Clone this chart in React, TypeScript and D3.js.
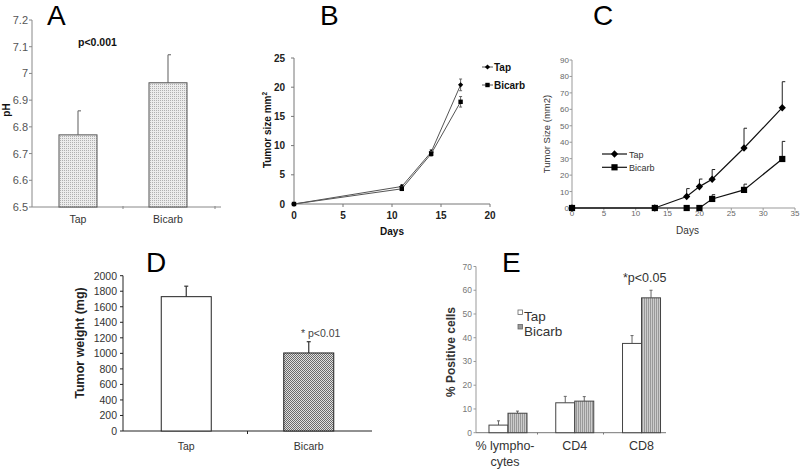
import React from "react";
import * as d3 from "d3";

// ---------- Panel A data ----------
const aCats = ["Tap", "Bicarb"];
const aVals = [6.77, 6.965];
const aErr = [0.09, 0.105];
const aTicks = [6.5, 6.6, 6.7, 6.8, 6.9, 7.0, 7.1, 7.2];

// ---------- Panel B data ----------
const bDays = [0, 11, 14, 17];
const bTap = [0, 3.0, 8.9, 20.4];
const bTapErr = [0, 0.3, 0.4, 1.0];
const bBicarb = [0, 2.6, 8.6, 17.5];
const bBicarbErr = [0, 0.3, 0.4, 0.9];
const bYTicks = [0, 5, 10, 15, 20, 25];
const bXTicks = [0, 5, 10, 15, 20];

// ---------- Panel C data ----------
const cDays = [0, 13, 18, 20, 22, 27, 33];
const cTap = [0, 0, 7, 13, 17.5, 36.5, 61];
const cTapErr = [0, 0, 4.8, 4.6, 5.9, 12, 15.8];
const cBicarb = [0, 0, 0, 0, 5.5, 11, 29.8];
const cBicarbErr = [0, 0, 0, 0, 2.6, 3.5, 10.7];
const cYTicks = [0, 10, 20, 30, 40, 50, 60, 70, 80, 90];
const cXTicks = [0, 5, 10, 15, 20, 25, 30, 35];

// ---------- Panel D data ----------
const dCats = ["Tap", "Bicarb"];
const dVals = [1730, 1005];
const dErr = [135, 145];
const dTicks = [0, 200, 400, 600, 800, 1000, 1200, 1400, 1600, 1800, 2000];

// ---------- Panel E data ----------
const eCats = ["lympho", "CD4", "CD8"];
const eLabels = [["% lympho-", "cytes"], ["CD4"], ["CD8"]];
const eTap = [3.2, 12.6, 37.6];
const eTapErr = [1.8, 2.7, 3.3];
const eBicarb = [8.2, 13.3, 56.8];
const eBicarbErr = [0.9, 1.9, 3.2];
const eTicks = [0, 10, 20, 30, 40, 50, 60, 70];

const FONT = "'Liberation Sans', Arial, Helvetica, sans-serif";

function PanelA() {
  const y = d3.scaleLinear().domain([6.5, 7.2]).range([207, 20]);
  const x = d3.scaleBand().domain(aCats).range([33, 213]);
  const bw = 38;
  return (
    <g>
      <text x={47} y={25} fontSize={28} fill="#000">A</text>
      <line x1={32} x2={32} y1={20} y2={207} stroke="#888" />
      <line x1={32} x2={221} y1={207} y2={207} stroke="#888" />
      {aTicks.map((t) => (
        <g key={t}>
          <line x1={29} x2={32} y1={y(t)} y2={y(t)} stroke="#888" />
          <text x={28} y={y(t) + 4} fontSize={11} fill="#555" textAnchor="end">
            {d3.format("")(+t.toFixed(1))}
          </text>
        </g>
      ))}
      {[123, 215].map((t) => (
        <line key={t} x1={t} x2={t} y1={206} y2={209} stroke="#888" />
      ))}
      {aCats.map((c, i) => {
        const cx = x(c)! + x.bandwidth() / 2;
        return (
          <g key={c}>
            <line x1={cx} x2={cx} y1={y(aVals[i])} y2={y(aVals[i] + aErr[i])} stroke="#777" strokeWidth={1.2} />
            <line x1={cx} x2={cx + 3} y1={y(aVals[i] + aErr[i])} y2={y(aVals[i] + aErr[i])} stroke="#777" strokeWidth={1.2} />
            <rect x={cx - bw / 2} y={y(aVals[i])} width={bw} height={207 - y(aVals[i])} fill="url(#patA)" stroke="#555" strokeWidth={1} />
            <text x={cx} y={223} fontSize={10.5} fill="#333" textAnchor="middle">{c}</text>
          </g>
        );
      })}
      <text x={78} y={46} fontSize={10.5} fontWeight="bold" fill="#111">p&lt;0.001</text>
      <text transform="translate(10,110) rotate(-90)" fontSize={10} fontWeight="bold" textAnchor="middle" fill="#111">pH</text>
    </g>
  );
}

function PanelB() {
  const x = d3.scaleLinear().domain([0, 20]).range([294, 490]);
  const y = d3.scaleLinear().domain([0, 25]).range([204, 58]);
  const line = d3.line<number>().x((_, i) => x(bDays[i])).y((d) => y(d));
  const series = [
    { vals: bTap, err: bTapErr, marker: "diamond" },
    { vals: bBicarb, err: bBicarbErr, marker: "square" },
  ];
  const mk = (m: string, cx: number, cy: number, key?: any) =>
    m === "square" ? (
      <rect key={key} x={cx - 2.2} y={cy - 2.2} width={4.4} height={4.4} fill="#000" />
    ) : (
      <path key={key} d="M0,-2.6L2.6,0L0,2.6L-2.6,0Z" transform={`translate(${cx},${cy})`} fill="#000" />
    );
  return (
    <g>
      <text x={320} y={25} fontSize={28} fill="#000">B</text>
      <line x1={294} x2={294} y1={58} y2={204} stroke="#777" />
      <line x1={294} x2={490} y1={204} y2={204} stroke="#777" />
      {bYTicks.map((t) => (
        <g key={t}>
          <line x1={291} x2={294} y1={y(t)} y2={y(t)} stroke="#777" />
          <text x={285} y={y(t) + 3.5} fontSize={10} fontWeight="bold" fill="#222" textAnchor="end">{t}</text>
        </g>
      ))}
      {bXTicks.map((t) => (
        <g key={t}>
          <line x1={x(t)} x2={x(t)} y1={204} y2={207} stroke="#777" />
          <text x={x(t)} y={219} fontSize={10} fontWeight="bold" fill="#222" textAnchor="middle">{t}</text>
        </g>
      ))}
      {series.map((s, si) => (
        <g key={si}>
          <path d={line(s.vals)!} fill="none" stroke="#555" strokeWidth={1} />
          {s.vals.map((v, i) =>
            s.err[i] > 0 ? (
              <g key={i}>
                <line x1={x(bDays[i])} x2={x(bDays[i])} y1={y(v - s.err[i])} y2={y(v + s.err[i])} stroke="#666" />
                <line x1={x(bDays[i]) - 1.5} x2={x(bDays[i]) + 1.5} y1={y(v + s.err[i])} y2={y(v + s.err[i])} stroke="#666" />
                <line x1={x(bDays[i]) - 1.5} x2={x(bDays[i]) + 1.5} y1={y(v - s.err[i])} y2={y(v - s.err[i])} stroke="#666" />
              </g>
            ) : null
          )}
          {s.vals.map((v, i) => mk(s.marker, x(bDays[i]), y(v), "m" + i))}
        </g>
      ))}
      <line x1={482} x2={493} y1={67} y2={67} stroke="#555" />
      {mk("diamond", 487.5, 67)}
      <text x={494} y={71} fontSize={10} fontWeight="bold" fill="#111">Tap</text>
      <line x1={482} x2={493} y1={85} y2={85} stroke="#555" />
      {mk("square", 487.5, 85)}
      <text x={494} y={89} fontSize={10} fontWeight="bold" fill="#111">Bicarb</text>
      <text x={392} y={235} fontSize={10} fontWeight="bold" fill="#111" textAnchor="middle">Days</text>
      <text transform="translate(271,130) rotate(-90)" fontSize={10} fontWeight="bold" fill="#111" textAnchor="middle">
        Tumor size mm<tspan fontSize={6.5} dy={-4}>2</tspan>
      </text>
    </g>
  );
}

function PanelC() {
  const x = d3.scaleLinear().domain([0, 35]).range([572, 795]);
  const y = d3.scaleLinear().domain([0, 90]).range([208, 60]);
  const line = d3.line<number>().x((_, i) => x(cDays[i])).y((d) => y(d));
  const series = [
    { vals: cTap, err: cTapErr, marker: "diamond" },
    { vals: cBicarb, err: cBicarbErr, marker: "square" },
  ];
  const mk = (m: string, cx: number, cy: number, key?: any) =>
    m === "square" ? (
      <rect key={key} x={cx - 3.1} y={cy - 3.1} width={6.2} height={6.2} fill="#000" />
    ) : (
      <path key={key} d="M0,-3.8L3.6,0L0,3.8L-3.6,0Z" transform={`translate(${cx},${cy})`} fill="#000" />
    );
  return (
    <g>
      <text x={593} y={25} fontSize={28} fill="#000">C</text>
      <line x1={572} x2={572} y1={60} y2={208} stroke="#999" />
      <line x1={572} x2={795} y1={208} y2={208} stroke="#999" />
      {cYTicks.map((t) => (
        <g key={t}>
          <line x1={569.5} x2={572} y1={y(t)} y2={y(t)} stroke="#999" />
          <text x={569} y={y(t) + 3} fontSize={8} fill="#666" textAnchor="end">{t}</text>
        </g>
      ))}
      {cXTicks.map((t) => (
        <g key={t}>
          <line x1={x(t)} x2={x(t)} y1={208} y2={210.5} stroke="#999" />
          <text x={x(t)} y={216} fontSize={8} fill="#666" textAnchor="middle">{t}</text>
        </g>
      ))}
      {series.map((s, si) => (
        <g key={si}>
          <path d={line(s.vals)!} fill="none" stroke="#111" strokeWidth={1.2} />
          {s.vals.map((v, i) =>
            s.err[i] > 0 ? (
              <g key={i}>
                <line x1={x(cDays[i])} x2={x(cDays[i])} y1={y(v)} y2={y(v + s.err[i])} stroke="#222" />
                <line x1={x(cDays[i])} x2={x(cDays[i]) + 3} y1={y(v + s.err[i])} y2={y(v + s.err[i])} stroke="#222" />
              </g>
            ) : null
          )}
          {s.vals.map((v, i) => mk(s.marker, x(cDays[i]), y(v), "m" + i))}
        </g>
      ))}
      <line x1={602} x2={627} y1={154} y2={154} stroke="#111" strokeWidth={1.2} />
      {mk("diamond", 614.5, 154)}
      <text x={629} y={157.5} fontSize={9} fill="#333">Tap</text>
      <line x1={602} x2={627} y1={167.3} y2={167.3} stroke="#111" strokeWidth={1.2} />
      {mk("square", 614.5, 167.3)}
      <text x={629} y={170.8} fontSize={9} fill="#333">Bicarb</text>
      <text x={687.5} y={234} fontSize={10} fill="#333" textAnchor="middle">Days</text>
      <text transform="translate(550,134) rotate(-90)" fontSize={9.5} fill="#333" textAnchor="middle">Tumor Size (mm2)</text>
    </g>
  );
}

function PanelD() {
  const y = d3.scaleLinear().domain([0, 2000]).range([431, 275.7]);
  const x = d3.scaleBand().domain(dCats).range([125, 370]);
  const bw = 50;
  const fills = ["#fff", "url(#patD)"];
  return (
    <g>
      <text x={146} y={272} fontSize={28} fill="#000">D</text>
      <line x1={123} x2={123} y1={275.7} y2={431} stroke="#222" />
      <line x1={123} x2={372} y1={431} y2={431} stroke="#222" />
      {dTicks.map((t) => (
        <g key={t}>
          <line x1={120} x2={123} y1={y(t)} y2={y(t)} stroke="#222" />
          <text x={117} y={y(t) + 3.8} fontSize={10.5} fill="#333" textAnchor="end">{t}</text>
        </g>
      ))}
      <line x1={247.5} x2={247.5} y1={431} y2={434} stroke="#222" />
      {dCats.map((c, i) => {
        const cx = x(c)! + x.bandwidth() / 2;
        return (
          <g key={c}>
            <line x1={cx} x2={cx} y1={y(dVals[i])} y2={y(dVals[i] + dErr[i])} stroke="#333" strokeWidth={1.2} />
            <line x1={cx - 2} x2={cx + 2} y1={y(dVals[i] + dErr[i])} y2={y(dVals[i] + dErr[i])} stroke="#333" strokeWidth={1.2} />
            <rect x={cx - bw / 2} y={y(dVals[i])} width={bw} height={431 - y(dVals[i])} fill={fills[i]} stroke="#222" strokeWidth={1} />
            <text x={cx} y={450} fontSize={10.5} fill="#333" textAnchor="middle">{c}</text>
          </g>
        );
      })}
      <text x={301} y={337} fontSize={10.5} fill="#444">* p&lt;0.01</text>
      <text transform="translate(84,343) rotate(-90)" fontSize={12.5} fontWeight="bold" fill="#222" textAnchor="middle">Tumor weight (mg)</text>
    </g>
  );
}

function PanelE() {
  const y = d3.scaleLinear().domain([0, 70]).range([432.7, 266.5]);
  const x = d3.scaleBand().domain(eCats).range([474.6, 674.9]);
  const bw = 19;
  return (
    <g>
      <text x={502} y={272} fontSize={28} fill="#000">E</text>
      <line x1={476} x2={476} y1={266.5} y2={432.7} stroke="#999" />
      <line x1={476} x2={666} y1={432.7} y2={432.7} stroke="#777" />
      {eTicks.map((t) => (
        <g key={t}>
          <line x1={473.5} x2={476} y1={y(t)} y2={y(t)} stroke="#999" />
          <text x={472} y={y(t) + 3} fontSize={8.5} fill="#777" textAnchor="end">{t}</text>
        </g>
      ))}
      {[537.5, 603.5].map((t) => (
        <line key={t} x1={t} x2={t} y1={432.7} y2={434.5} stroke="#777" />
      ))}
      {eCats.map((c, i) => {
        const cx = x(c)! + x.bandwidth() / 2;
        const bars = [
          { v: eTap[i], e: eTapErr[i], x0: cx - bw, fill: "#fff" },
          { v: eBicarb[i], e: eBicarbErr[i], x0: cx, fill: "url(#patE)" },
        ];
        return (
          <g key={c}>
            {bars.map((b, j) => (
              <g key={j}>
                <line x1={b.x0 + bw / 2} x2={b.x0 + bw / 2} y1={y(b.v)} y2={y(b.v + b.e)} stroke="#666" />
                <line x1={b.x0 + bw / 2 - 1.5} x2={b.x0 + bw / 2 + 1.5} y1={y(b.v + b.e)} y2={y(b.v + b.e)} stroke="#666" />
                <rect x={b.x0} y={y(b.v)} width={bw} height={432.7 - y(b.v)} fill={b.fill} stroke="#444" strokeWidth={1} />
              </g>
            ))}
            {eLabels[i].map((l, k) => (
              <text key={k} x={cx - (i === 0 ? 3 : 0)} y={450 + k * 16} fontSize={12.5} fill="#333" textAnchor="middle">{l}</text>
            ))}
          </g>
        );
      })}
      <text x={623} y={282} fontSize={12.5} fill="#333">*p&lt;0.05</text>
      <rect x={518} y={310} width={4.5} height={4.5} fill="#fff" stroke="#666" strokeWidth={0.8} />
      <text x={524} y={320.5} fontSize={13.5} fill="#333">Tap</text>
      <rect x={518} y={324.5} width={4.5} height={4.5} fill="#999" stroke="#666" strokeWidth={0.8} />
      <text x={524} y={335.5} fontSize={13.5} fill="#333">Bicarb</text>
      <text transform="translate(455,352) rotate(-90)" fontSize={12} fontWeight="bold" fill="#333" textAnchor="middle">% Positive cells</text>
    </g>
  );
}

export default function App() {
  return (
    <svg width={800} height={472} style={{ position: "absolute", left: 0, top: 0, background: "#fff" }} fontFamily={FONT}>
      <defs>
        <pattern id="patA" width={2} height={2} patternUnits="userSpaceOnUse">
          <rect width={2} height={2} fill="#ececec" />
          <rect width={1} height={1} fill="#b0b0b0" />
        </pattern>
        <pattern id="patD" width={2} height={2} patternUnits="userSpaceOnUse">
          <rect width={2} height={2} fill="#e0e0e0" />
          <rect width={1} height={1} fill="#6a6a6a" />
          <rect x={1} y={1} width={1} height={1} fill="#6a6a6a" />
        </pattern>
        <pattern id="patE" width={2} height={2} patternUnits="userSpaceOnUse">
          <rect width={2} height={2} fill="#cccccc" />
          <rect width={1} height={2} fill="#999999" />
        </pattern>
      </defs>
      <rect width={800} height={472} fill="#fff" />
      <PanelA />
      <PanelB />
      <PanelC />
      <PanelD />
      <PanelE />
    </svg>
  );
}
